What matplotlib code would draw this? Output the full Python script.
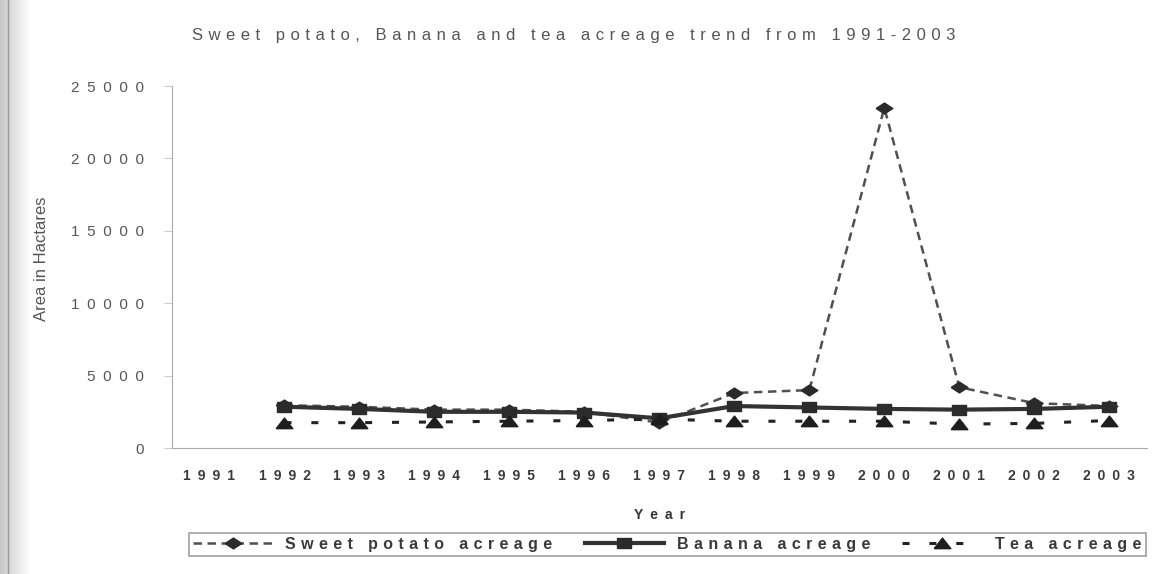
import numpy as np
import matplotlib
matplotlib.use('Agg')
from matplotlib import pyplot as plt

plt.rcParams['font.family'] = ['Liberation Sans', 'DejaVu Sans']

years = ['1991', '1992', '1993', '1994', '1995', '1996', '1997',
         '1998', '1999', '2000', '2001', '2002', '2003']
sweet_potato = [np.nan, 2950, 2850, 2650, 2650, 2500, 1750, 3800, 4000, 23500, 4200, 3100, 2900]
banana = [np.nan, 2850, 2700, 2500, 2500, 2450, 2050, 2900, 2800, 2700, 2650, 2700, 2850]
tea = [np.nan, 1750, 1750, 1800, 1850, 1900, 2000, 1850, 1850, 1850, 1650, 1700, 1900]
yticks = [0, 5000, 10000, 15000, 20000, 25000]

EN = '\u2002'     # en space
THREE = '\u2004'  # three-per-em space


def spread(s, gap=THREE):
    # letter-spaced text, as the spreadsheet printout draws it
    return gap.join(s)


# squat marker shapes (wider than tall)
diamond = [(-1, 0), (0, 0.65), (1, 0), (0, -0.65), (-1, 0)]
square = [(-1, -0.7), (1, -0.7), (1, 0.7), (-1, 0.7), (-1, -0.7)]
triangle = [(-1, -0.62), (1, -0.62), (0, 0.65), (-1, -0.62)]

fig = plt.figure(figsize=(11.66, 5.74), dpi=100)

# grey shading along the left page edge
edge = fig.add_axes([0, 0, 0.026, 1])
edge.imshow(np.linspace(0.78, 1.0, 64)[None, :], aspect='auto', cmap='gray',
            vmin=0, vmax=1, extent=(0, 1, 0, 1))
edge.axvline(0.27, color='#9a9a9a', lw=1)
edge.axis('off')

ax = fig.add_axes([0.1475, 0.2195, 0.836, 0.6305])

x = np.arange(len(years))
ax.plot(x, sweet_potato, color='#505050', lw=1.8, dashes=(3.4, 2.2),
        marker=diamond, ms=12, mfc='#2b2b2b', mec='#2b2b2b',
        label=spread('Sweet potato acreage'))
ax.plot(x, banana, color='#333333', lw=3.0, marker=square, ms=10,
        mfc='#2b2b2b', mec='#2b2b2b', label=spread('Banana acreage'))
ax.plot(x, tea, color='#222222', lw=2.2, dashes=(2.3, 6.5), marker=triangle, ms=12,
        mfc='#1e1e1e', mec='#1e1e1e', label=spread('Tea acreage'))

ax.set_xlim(-0.5, len(years) - 0.5)
ax.set_ylim(0, 25000)
ax.set_xticks(x)
ax.set_xticklabels([spread(y, EN) for y in years], fontsize=10,
                   fontweight='bold', color='#3a3a3a')
ax.set_yticks(yticks)
ax.set_yticklabels([spread(str(v), EN) for v in yticks], fontsize=11, color='#555555')
ax.tick_params(axis='x', length=0, pad=15)
ax.tick_params(axis='y', length=6, color='#cccccc', pad=14)

for side in ['top', 'right']:
    ax.spines[side].set_visible(False)
ax.spines['left'].set_color('#aaaaaa')
ax.spines['bottom'].set_color('#aaaaaa')

ax.set_xlabel(spread('Year', EN), fontsize=10, fontweight='bold', color='#333333', labelpad=18)
fig.text(0.036, 0.55, 'Area in Hactares', rotation=90, fontsize=12,
         color='#555555', ha='center', va='center')

fig.text(0.165, 0.938, spread('Sweet potato, Banana and tea acreage trend from 1991-2003'),
         fontsize=12, color='#555555', ha='left', va='center')

leg = ax.legend(loc='center', bbox_to_anchor=(0.508, -0.266), ncol=3,
                prop={'size': 11.5, 'weight': 'bold'}, frameon=True, fancybox=False,
                edgecolor='#888888', handlelength=5.0, handletextpad=0.8,
                columnspacing=2.0, borderpad=0.25)
leg.get_frame().set_linewidth(1.2)
for t in leg.get_texts():
    t.set_color('#3a3a3a')

fig.savefig('out.png', dpi=100, facecolor='white')
